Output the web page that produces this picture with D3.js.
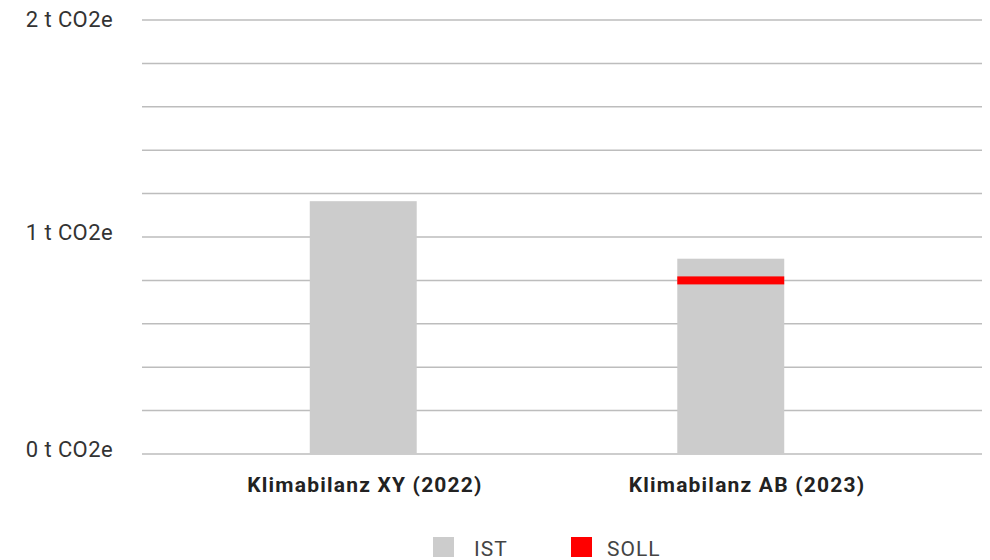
<!DOCTYPE html>
<html>
<head>
<meta charset="utf-8">
<script src="https://cdn.jsdelivr.net/npm/d3@7"></script>
<style>
  body { margin: 0; background: #fff; }
  svg { display: block; }
</style>
</head>
<body>
<svg id="chart" width="990" height="560"></svg>
<script>
const categories = ["Klimabilanz XY (2022)", "Klimabilanz AB (2023)"];
const istValues = [1.165, 0.9];
const sollValues = [null, 0.8];
const yTicks = [0, 0.2, 0.4, 0.6, 0.8, 1, 1.2, 1.4, 1.6, 1.8, 2];
const yLabels = { 0: "0 t CO2e", 1: "1 t CO2e", 2: "2 t CO2e" };
const legendItems = ["IST", "SOLL"];

const colors = { ist: "#cccccc", soll: "#ff0000", grid: "#bdbdbd" };
const layout = { gridLeft: 142, gridRight: 982, top: 20, bottom: 454 };

const svg = d3.select("#chart");

const y = d3.scaleLinear().domain([0, 2]).range([layout.bottom, layout.top]);
const x = d3.scaleBand()
  .domain(categories)
  .range([142, 952])
  .paddingInner(0.709)
  .paddingOuter(0.4565);
// category labels sit a bit wider apart than the bars
const xLabel = d3.scalePoint().domain(categories).range([365, 747]);

// gridlines
svg.append("g")
  .selectAll("line")
  .data(yTicks)
  .join("line")
  .attr("x1", layout.gridLeft)
  .attr("x2", layout.gridRight)
  .attr("y1", d => y(d))
  .attr("y2", d => y(d))
  .attr("stroke", colors.grid)
  .attr("stroke-width", 1.5);

// y labels
svg.append("g")
  .selectAll("text")
  .data(Object.keys(yLabels).map(Number))
  .join("text")
  .attr("x", 113)
  .attr("y", d => y(d) - (d === 2 ? 1 : 5))
  .attr("dy", "0.35em")
  .attr("text-anchor", "end")
  .attr("font-family", "Roboto, sans-serif")
  .attr("font-size", 22)
  .attr("letter-spacing", 0.4)
  .attr("fill", "#333")
  .text(d => yLabels[d]);

// IST bars
svg.append("g")
  .selectAll("rect")
  .data(categories)
  .join("rect")
  .attr("x", d => x(d))
  .attr("width", x.bandwidth())
  .attr("y", (d, i) => y(istValues[i]))
  .attr("height", (d, i) => y(0) - y(istValues[i]))
  .attr("fill", colors.ist);

// SOLL markers
svg.append("g")
  .selectAll("rect")
  .data(categories.filter((d, i) => sollValues[i] != null))
  .join("rect")
  .attr("x", d => x(d))
  .attr("width", x.bandwidth())
  .attr("y", d => y(sollValues[categories.indexOf(d)]) - 4)
  .attr("height", 8)
  .attr("fill", colors.soll);

// x labels
svg.append("g")
  .selectAll("text")
  .data(categories)
  .join("text")
  .attr("x", d => xLabel(d))
  .attr("y", 492)
  .attr("text-anchor", "middle")
  .attr("font-family", "Roboto, sans-serif")
  .attr("font-weight", "bold")
  .attr("font-size", 21)
  .attr("letter-spacing", 1.2)
  .attr("fill", "#222")
  .text(d => d);

// legend
const legend = svg.append("g");
const legendX = [433, 571];
legendItems.forEach((name, i) => {
  const g = legend.append("g").attr("transform", `translate(${legendX[i]},537)`);
  g.append("rect")
    .attr("width", 21)
    .attr("height", 20)
    .attr("fill", i === 0 ? colors.ist : colors.soll);
  g.append("text")
    .attr("x", i === 0 ? 41 : 36)
    .attr("y", 19)
    .attr("font-family", "Roboto, sans-serif")
    .attr("font-size", 21)
    .attr("letter-spacing", 1)
    .attr("fill", "#444")
    .text(name);
});
</script>
</body>
</html>
